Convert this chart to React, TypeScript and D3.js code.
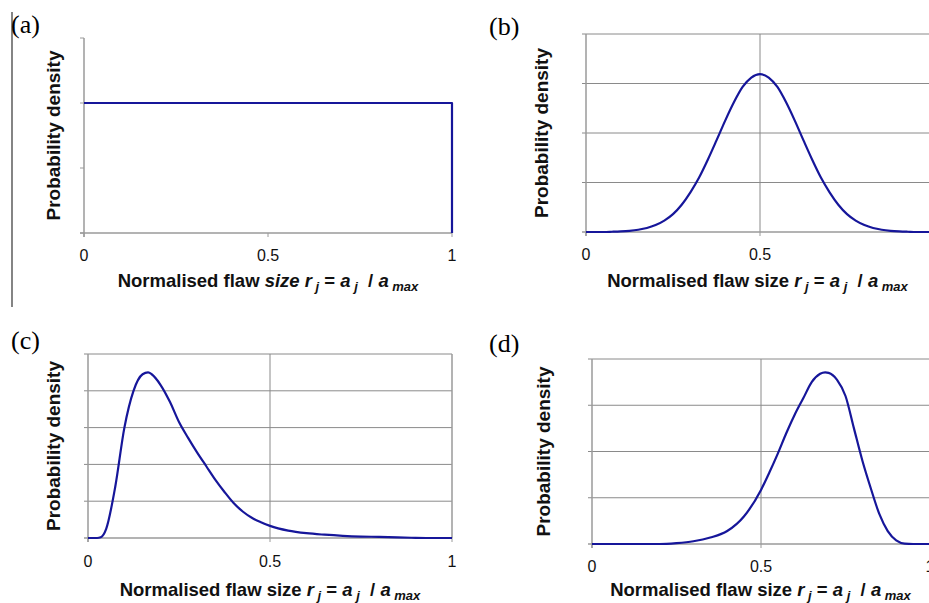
import React from 'react';
import * as d3 from 'd3';

// (a) uniform
const uniformX = [0, 1, 1];
const uniformY = [2, 2, 0];

// (b) symmetric bell around 0.5
const normalX = [0, 0.025, 0.05, 0.075, 0.1, 0.125, 0.15, 0.175, 0.2, 0.225, 0.25, 0.275, 0.3, 0.325, 0.35, 0.375, 0.4, 0.425, 0.45, 0.475, 0.5,
  0.525, 0.55, 0.575, 0.6, 0.625, 0.65, 0.675, 0.7, 0.725, 0.75, 0.775, 0.8, 0.825, 0.85, 0.875, 0.9, 0.925, 0.95, 0.975, 1];
const normalY = [0, 0, 0, 0.005, 0.012, 0.024, 0.045, 0.08, 0.14, 0.23, 0.36, 0.55, 0.8, 1.1, 1.46, 1.85, 2.25, 2.62, 2.93, 3.12, 3.19,
  3.12, 2.93, 2.62, 2.25, 1.85, 1.46, 1.1, 0.8, 0.55, 0.36, 0.23, 0.14, 0.08, 0.045, 0.024, 0.012, 0.005, 0, 0, 0];

// (c) skewed to small flaws
const skewLowX = [0, 0.025, 0.035, 0.05, 0.075, 0.1, 0.125, 0.15, 0.165, 0.175, 0.2, 0.225, 0.25, 0.275, 0.3, 0.325, 0.35, 0.375, 0.4,
  0.425, 0.45, 0.475, 0.5, 0.55, 0.6, 0.65, 0.7, 0.75, 0.8, 0.85, 0.9, 0.95, 1];
const skewLowY = [0, 0, 0.02, 0.25, 1.4, 3.0, 4.0, 4.45, 4.5, 4.45, 4.15, 3.7, 3.15, 2.72, 2.32, 1.95, 1.58, 1.25, 0.95,
  0.72, 0.55, 0.43, 0.33, 0.2, 0.13, 0.09, 0.06, 0.04, 0.03, 0.015, 0.005, 0, 0];

// (d) skewed to large flaws
const skewHighX = [0, 0.1, 0.2, 0.25, 0.3, 0.35, 0.4, 0.45, 0.5, 0.525, 0.55, 0.575, 0.6, 0.625, 0.65, 0.675, 0.69, 0.7, 0.725,
  0.75, 0.775, 0.8, 0.825, 0.85, 0.875, 0.9, 0.925, 0.95, 1];
const skewHighY = [0, 0, 0, 0.02, 0.06, 0.14, 0.28, 0.6, 1.17, 1.55, 1.96, 2.4, 2.8, 3.15, 3.5, 3.68, 3.71, 3.7, 3.55,
  3.2, 2.5, 1.8, 1.2, 0.65, 0.28, 0.08, 0.01, 0, 0];

const xTicks = [0, 0.5, 1];
const xTickLabels = ['0', '0.5', '1'];

const BLUE = '#16169a';
const GRID = '#8a8a8a';
const AXIS = '#9a9a9a';

const panels = [
  { tag: '(a)', tagX: 11, tagY: 33, xs: uniformX, ys: uniformY, yMax: 3, x0: 84, x1: 452, yTop: 38, yBot: 233,
    grid: false, tickY: 261, titleY: 287, ytX: 60, italicSize: true, curve: d3.curveLinear },
  { tag: '(b)', tagX: 489, tagY: 35, xs: normalX, ys: normalY, yMax: 4, x0: 586, x1: 934, yTop: 34, yBot: 232,
    grid: true, tickY: 260, titleY: 287, ytX: 548, italicSize: false, curve: d3.curveMonotoneX },
  { tag: '(c)', tagX: 11, tagY: 349, xs: skewLowX, ys: skewLowY, yMax: 5, x0: 88, x1: 452, yTop: 354, yBot: 538,
    grid: true, tickY: 567, titleY: 596, ytX: 60, italicSize: false, curve: d3.curveMonotoneX },
  { tag: '(d)', tagX: 489, tagY: 352, xs: skewHighX, ys: skewHighY, yMax: 4, x0: 592, x1: 930, yTop: 359, yBot: 544,
    grid: true, tickY: 572, titleY: 596, ytX: 550, italicSize: false, curve: d3.curveMonotoneX },
];

function Panel({ p }: { p: any }) {
  const x = d3.scaleLinear().domain([0, 1]).range([p.x0, p.x1]);
  const y = d3.scaleLinear().domain([0, p.yMax]).range([p.yBot, p.yTop]);
  const yTicks = d3.range(0, p.yMax + 1);
  const line = d3.line<number>()
    .x((_, i) => x(p.xs[i]))
    .y(d => y(d))
    .curve(p.curve);
  const cx = (p.x0 + Math.min(p.x1, 929)) / 2;
  const sub = { fontSize: 13, dy: 4 };
  return (
    <g>
      <text x={p.tagX} y={p.tagY} fontFamily="'Liberation Serif', 'Times New Roman', serif" fontSize={26}>{p.tag}</text>
      {p.grid && yTicks.slice(1).map(t => (
        <line key={'g' + t} x1={p.x0 - 4} x2={p.x1} y1={y(t)} y2={y(t)} stroke={GRID} strokeWidth={1} />
      ))}
      {p.grid && (
        <>
          <line x1={x(0.5)} x2={x(0.5)} y1={p.yTop} y2={p.yBot} stroke={GRID} strokeWidth={1} />
          <line x1={p.x1} x2={p.x1} y1={p.yTop} y2={p.yBot} stroke={AXIS} strokeWidth={1.5} />
        </>
      )}
      {!p.grid && yTicks.map(t => (
        <line key={'t' + t} x1={p.x0 - 4} x2={p.x0} y1={y(t)} y2={y(t)} stroke={AXIS} strokeWidth={1} />
      ))}
      <line x1={p.x0} x2={p.x0} y1={p.yTop} y2={p.yBot + 4} stroke={AXIS} strokeWidth={1.5} />
      <line x1={p.x0 - 4} x2={p.x1} y1={p.yBot} y2={p.yBot} stroke={AXIS} strokeWidth={1.5} />
      {xTicks.map(t => (
        <line key={'x' + t} x1={x(t)} x2={x(t)} y1={p.yBot} y2={p.yBot + 4} stroke={AXIS} strokeWidth={1} />
      ))}
      <path d={line(p.ys) || ''} fill="none" stroke={BLUE} strokeWidth={2.2} strokeLinejoin="round" />
      {xTicks.map((t, i) => (
        <text key={'l' + t} x={x(t)} y={p.tickY} textAnchor="middle" fontFamily="'Liberation Sans', Arial, sans-serif" fontSize={16} fill="#111">{xTickLabels[i]}</text>
      ))}
      <text x={cx} y={p.titleY} textAnchor="middle" fontFamily="'Liberation Sans', Arial, sans-serif" fontSize={18.5} fontWeight="bold" fill="#111" style={{ whiteSpace: 'pre' }}>
        <tspan>Normalised flaw </tspan>
        <tspan fontStyle={p.italicSize ? 'italic' : 'normal'}>size </tspan>
        <tspan fontStyle="italic">r</tspan>
        <tspan fontStyle="italic" fontSize={sub.fontSize} dy={sub.dy}> j</tspan>
        <tspan dy={-sub.dy}> = </tspan>
        <tspan fontStyle="italic">a</tspan>
        <tspan fontStyle="italic" fontSize={sub.fontSize} dy={sub.dy}> j</tspan>
        <tspan dy={-sub.dy}>  / </tspan>
        <tspan fontStyle="italic">a</tspan>
        <tspan fontStyle="italic" fontSize={sub.fontSize} dy={sub.dy}> max</tspan>
      </text>
      <text transform={`translate(${p.ytX},${(p.yTop + p.yBot) / 2}) rotate(-90)`} textAnchor="middle"
        fontFamily="'Liberation Sans', Arial, sans-serif" fontSize={19} fontWeight="bold" fill="#111">Probability density</text>
    </g>
  );
}

export default function App() {
  return (
    <div>
      <style>{`body{margin:0;background:#fff}`}</style>
      <svg width={929} height={603} style={{ display: 'block', background: '#fff' }}>
        <line x1={12} x2={12} y1={12} y2={307} stroke="#333" strokeWidth={1.2} />
        {panels.map(p => <Panel key={p.tag} p={p} />)}
      </svg>
    </div>
  );
}
